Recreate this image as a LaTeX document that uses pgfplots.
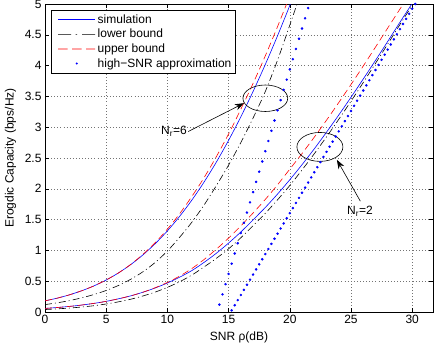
\documentclass[border=0pt]{standalone}
\usepackage{fontspec}
\setmainfont{Liberation Sans}
\usepackage{pgfplots}
\pgfplotsset{compat=1.18}
\usetikzlibrary{arrows.meta}
\definecolor{mblue}{rgb}{0,0,1}
\definecolor{mred}{rgb}{1,0,0}
\begin{document}
\begin{tikzpicture}[font=\fontsize{12bp}{14bp}\selectfont]
\path[use as bounding box] (0,0) rectangle (434bp,351bp);
\begin{axis}[
  scale only axis, width=388bp, height=308bp,
  at={(45bp,39bp)}, anchor=south west,
  xmin=0, xmax=31.7, ymin=0, ymax=5,
  xtick={0,5,10,15,20,25,30},
  ytick={0,0.5,1,1.5,2,2.5,3,3.5,4,4.5,5},
  /pgf/number format/assume math mode=true,
  tick align=inside,
  major tick length=4bp,
  every tick/.style={black, line width=0.5pt},
  axis line style={line width=0.8pt},
  grid=major,
  major grid style={black!55, line width=0.45pt, dash pattern=on 0.5pt off 2.6pt},
  xlabel={SNR ρ(dB)},
  ylabel={Erogdic Capacity (bps/Hz)},
  xlabel style={at={(axis description cs:0.5,-0.064)}, anchor=north, inner sep=0pt},
  ylabel style={at={(axis description cs:-0.104,0.5)}, anchor=north, inner sep=0pt},
  legend cell align=left,
  legend style={at={(0.0155,0.9805)}, anchor=north west,
    fill=white, inner xsep=2.5pt, inner ysep=2.3pt,
    nodes={inner xsep=1pt, inner ysep=2.2pt}, /tikz/column sep=1.5pt},
]
% ---------- N_r = 6 ----------
\addplot[draw=mblue, line width=0.6pt, smooth,
  legend image code/.code={\path[draw=none] (-4.5bp,0) -- (0,0);
    \fill[mblue, draw=none] (0bp,-0.4bp) rectangle (37bp,0.4bp);}] coordinates {
(0,0.181)(1,0.225)(2,0.279)(3,0.345)(4,0.424)(5,0.520)(6,0.634)(7,0.769)(8,0.927)(9,1.109)(10,1.317)(11,1.553)(12,1.817)(13,2.111)(14,2.434)(15,2.787)(16,3.169)(17,3.580)(18,4.019)(19,4.485)(20,4.977)(21,5.493)};
\addlegendentry{simulation}
\addplot[draw=black, line width=0.6pt, smooth, dash pattern=on 7bp off 3bp on 1bp off 3bp,
  legend image code/.code={\path[draw=none] (-4.5bp,0) -- (0,0);
    \fill[black, draw=none] (0bp,-0.35bp) rectangle (13bp,0.35bp) (17.5bp,-0.35bp) rectangle (19bp,0.35bp) (24bp,-0.35bp) rectangle (37bp,0.35bp);}] coordinates {
(0,0.120)(1,0.149)(2,0.185)(3,0.230)(4,0.284)(5,0.350)(6,0.431)(7,0.531)(8,0.653)(9,0.804)(10,0.990)(11,1.213)(12,1.458)(13,1.738)(14,2.052)(15,2.385)(16,2.751)(17,3.149)(18,3.580)(19,4.089)(20,4.657)(21,5.235)};
\addlegendentry{lower bound}
\addplot[draw=mred, line width=0.6pt, smooth, dash pattern=on 7bp off 4bp,
  legend image code/.code={\path[draw=none] (-4.5bp,0) -- (0,0);
    \fill[mred, draw=none] (0bp,-0.4bp) rectangle (9.5bp,0.4bp) (14bp,-0.4bp) rectangle (23.5bp,0.4bp) (28bp,-0.4bp) rectangle (37bp,0.4bp);}] coordinates {
(0,0.181)(1,0.225)(2,0.279)(3,0.345)(4,0.424)(5,0.520)(6,0.634)(7,0.772)(8,0.936)(9,1.125)(10,1.345)(11,1.595)(12,1.876)(13,2.182)(14,2.522)(15,2.890)(16,3.292)(17,3.711)(18,4.159)(19,4.633)(20,5.132)};
\addlegendentry{upper bound}
\addplot[only marks, mark=*, mark size=1.05bp, mblue, mark options={draw=mblue, fill=mblue},
  legend image code/.code={\path[draw=none] (-4.5bp,0) -- (0,0) (37bp,0);
    \fill[mblue, draw=none] (18.5bp,0bp) circle[radius=1.1bp];}] coordinates {
(14.25,0.120)(14.5,0.286)(14.75,0.452)(15,0.618)(15.25,0.784)(15.5,0.950)(15.75,1.116)(16,1.282)(16.25,1.448)(16.5,1.614)(16.75,1.780)(17,1.946)(17.25,2.112)(17.5,2.278)(17.75,2.444)(18,2.610)(18.25,2.776)(18.5,2.942)(18.75,3.108)(19,3.274)(19.25,3.440)(19.5,3.606)(19.75,3.772)(20,3.938)(20.25,4.104)(20.5,4.270)(20.75,4.436)(21,4.602)(21.25,4.768)(21.5,4.934)};
\addlegendentry{high\textminus SNR approximation}
% ---------- N_r = 2 ----------
\addplot[draw=mblue, line width=0.6pt, smooth, forget plot] coordinates {
(0,0.058)(1,0.073)(2,0.091)(3,0.113)(4,0.140)(5,0.173)(6,0.214)(7,0.262)(8,0.321)(9,0.390)(10,0.471)(11,0.565)(12,0.673)(13,0.806)(14,0.954)(15,1.119)(16,1.299)(17,1.496)(18,1.697)(19,1.915)(20,2.147)(21,2.392)(22,2.649)(23,2.919)(24,3.198)(25,3.486)(26,3.782)(27,4.084)(28,4.392)(29,4.704)(30,5.010)(31,5.319)};
\addplot[draw=black, line width=0.6pt, smooth, forget plot, dash pattern=on 7bp off 3bp on 1bp off 3bp] coordinates {
(0,0.040)(1,0.051)(2,0.064)(3,0.081)(4,0.102)(5,0.130)(6,0.165)(7,0.207)(8,0.260)(9,0.323)(10,0.400)(11,0.491)(12,0.600)(13,0.732)(14,0.871)(15,1.026)(16,1.205)(17,1.402)(18,1.602)(19,1.821)(20,2.054)(21,2.306)(22,2.569)(23,2.843)(24,3.128)(25,3.422)(26,3.725)(27,4.036)(28,4.349)(29,4.667)(30,4.978)(31,5.294)};
\addplot[draw=mred, line width=0.6pt, smooth, forget plot, dash pattern=on 7bp off 4bp] coordinates {
(0,0.058)(1,0.073)(2,0.091)(3,0.113)(4,0.140)(5,0.173)(6,0.214)(7,0.262)(8,0.321)(9,0.394)(10,0.480)(11,0.583)(12,0.706)(13,0.853)(14,1.020)(15,1.200)(16,1.398)(17,1.607)(18,1.828)(19,2.066)(20,2.319)(21,2.572)(22,2.838)(23,3.114)(24,3.400)(25,3.693)(26,3.993)(27,4.300)(28,4.610)(29,4.918)(30,5.226)};
\addplot[only marks, mark=*, mark size=1.05bp, mblue, forget plot, mark options={draw=mblue, fill=mblue}] coordinates {
(15.25,0.027)(15.5,0.110)(15.75,0.193)(16,0.276)(16.25,0.359)(16.5,0.442)(16.75,0.525)(17,0.608)(17.25,0.691)(17.5,0.774)(17.75,0.857)(18,0.940)(18.25,1.023)(18.5,1.106)(18.75,1.189)(19,1.272)(19.25,1.355)(19.5,1.438)(19.75,1.521)(20,1.604)(20.25,1.687)(20.5,1.770)(20.75,1.853)(21,1.936)(21.25,2.019)(21.5,2.102)(21.75,2.185)(22,2.268)(22.25,2.351)(22.5,2.434)(22.75,2.517)(23,2.600)(23.25,2.683)(23.5,2.766)(23.75,2.849)(24,2.932)(24.25,3.015)(24.5,3.098)(24.75,3.181)(25,3.264)(25.25,3.347)(25.5,3.430)(25.75,3.513)(26,3.596)(26.25,3.679)(26.5,3.762)(26.75,3.845)(27,3.928)(27.25,4.011)(27.5,4.094)(27.75,4.177)(28,4.260)(28.25,4.343)(28.5,4.426)(28.75,4.509)(29,4.592)(29.25,4.675)(29.5,4.758)(29.75,4.841)(30,4.924)(30.25,5.0)};
% ---------- annotations ----------
\draw[line width=0.6pt] (axis cs:18.0,3.47) ellipse [x radius=1.83, y radius=0.215];
\draw[line width=0.6pt, -{Stealth[length=9bp,width=6.5bp]}] (axis cs:11.7,2.93) -- (axis cs:16.25,3.39);
\node[anchor=base east, inner sep=0pt] at (axis cs:11.6,2.878) {N\textsubscript{r}=6};
\draw[line width=0.6pt] (axis cs:22.46,2.68) ellipse [x radius=1.88, y radius=0.235];
\draw[line width=0.6pt, -{Stealth[length=9bp,width=6.5bp]}] (axis cs:25.76,1.80) -- (axis cs:23.85,2.47);
\node[anchor=base west, inner sep=0pt] at (axis cs:24.67,1.58) {N\textsubscript{r}=2};
\end{axis}
\end{tikzpicture}
\end{document}
